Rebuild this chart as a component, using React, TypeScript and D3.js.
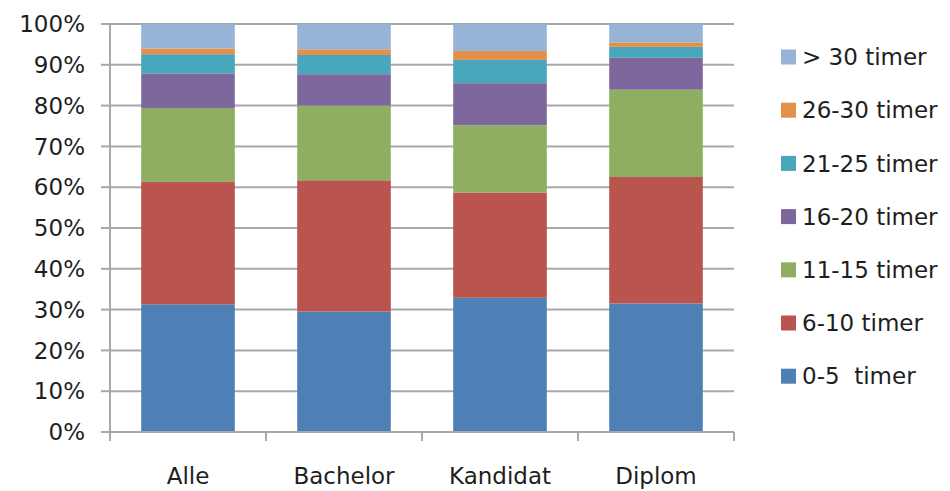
import { scaleBand, scaleLinear, stack } from "d3"

const categories = ["Alle", "Bachelor", "Kandidat", "Diplom"]
const seriesNames = [
  "0-5  timer",
  "6-10 timer",
  "11-15 timer",
  "16-20 timer",
  "21-25 timer",
  "26-30 timer",
  "> 30 timer",
]
// percent per category, one array per series (same order as seriesNames)
const t0_5 = [31.3, 29.5, 32.9, 31.5]
const t6_10 = [30.0, 32.2, 25.8, 31.0]
const t11_15 = [18.1, 18.3, 16.5, 21.4]
const t16_20 = [8.5, 7.7, 10.3, 7.8]
const t21_25 = [4.7, 4.7, 5.7, 2.7]
const t26_30 = [1.4, 1.4, 2.2, 1.1]
const t30plus = [6.0, 6.2, 6.6, 4.5]
const yTicks = [0, 10, 20, 30, 40, 50, 60, 70, 80, 90, 100]

const colors = ["#4e80b5", "#b9544f", "#8fae62", "#7e679d", "#48a7bb", "#e3904a", "#97b3d6"]

export default function App() {
  const width = 950
  const height = 491
  const left = 110
  const right = 734
  const top = 24
  const bottom = 432
  const font = "'DejaVu Sans', sans-serif"
  const fontSize = 23
  const textColor = "#1e1e1e"
  const gridColor = "#a8a8a8"

  const values = [t0_5, t6_10, t11_15, t16_20, t21_25, t26_30, t30plus]
  const rows = categories.map((c, i) => {
    const r: any = { cat: c }
    seriesNames.forEach((s, j) => (r[s] = values[j][i]))
    return r
  })
  const layers = stack<any>().keys(seriesNames)(rows)

  const x = scaleBand().domain(categories).range([left, right]).paddingInner(0.4).paddingOuter(0.2)
  const y = scaleLinear().domain([0, 100]).range([bottom, top])

  const bounds = categories.map((c) => (x(c) as number) - (x.step() * x.paddingInner()) / 2)
  bounds.push(right)

  return (
    <div style={{ position: "absolute", left: 0, top: 0 }}>
      <svg width={width} height={height} style={{ display: "block", background: "#fff" }}>
        {/* gridlines + y ticks */}
        {yTicks.map((t) => (
          <g key={t}>
            <line x1={left} x2={right} y1={y(t)} y2={y(t)} stroke={gridColor} strokeWidth={2} />
            <line x1={left - 9} x2={left} y1={y(t)} y2={y(t)} stroke={gridColor} strokeWidth={2} />
            <text
              x={85}
              y={y(t)}
              dy="0.36em"
              textAnchor="end"
              fontFamily={font}
              fontSize={fontSize}
              fill={textColor}
            >
              {t}%
            </text>
          </g>
        ))}
        {/* bars */}
        {layers.map((layer, i) => (
          <g key={layer.key} fill={colors[i]}>
            {layer.map((d, k) => (
              <rect
                key={k}
                x={x(d.data.cat)}
                width={x.bandwidth()}
                y={y(d[1])}
                height={y(d[0]) - y(d[1])}
              />
            ))}
          </g>
        ))}
        {/* axes */}
        <line x1={left} x2={left} y1={top} y2={bottom} stroke={gridColor} strokeWidth={2} />
        <line x1={left} x2={right} y1={bottom} y2={bottom} stroke={gridColor} strokeWidth={2} />
        {bounds.map((b, i) => (
          <line key={i} x1={b} x2={b} y1={bottom} y2={bottom + 9} stroke={gridColor} strokeWidth={2} />
        ))}
        {categories.map((c) => (
          <text
            key={c}
            x={(x(c) as number) + x.bandwidth() / 2}
            y={476}
            dy="0.36em"
            textAnchor="middle"
            fontFamily={font}
            fontSize={fontSize}
            fill={textColor}
          >
            {c}
          </text>
        ))}
        {/* legend, top entry is the last series */}
        {seriesNames
          .slice()
          .reverse()
          .map((s, i) => {
            const idx = seriesNames.length - 1 - i
            const cy = 57 + i * 53.2
            return (
              <g key={s}>
                <rect x={781} y={cy - 7.5} width={15} height={15} fill={colors[idx]} />
                <text
                  x={802}
                  y={cy}
                  dy="0.36em"
                  fontFamily={font}
                  fontSize={fontSize}
                  fill={textColor}
                  style={{ whiteSpace: "pre" }}
                >
                  {s}
                </text>
              </g>
            )
          })}
      </svg>
    </div>
  )
}
